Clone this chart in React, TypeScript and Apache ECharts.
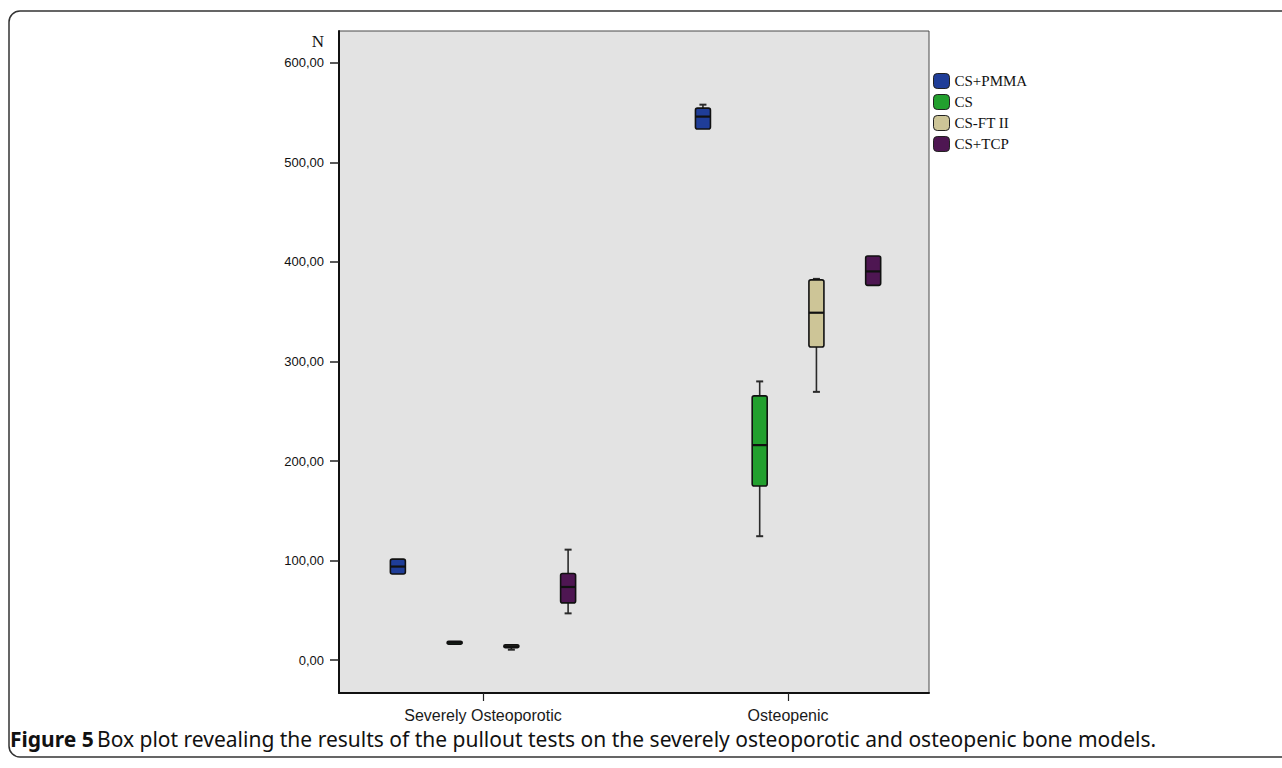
import React, { useEffect, useRef } from "react";
import * as echarts from "echarts";

// ---- data ----
const categories = ["Severely Osteoporotic", "Osteopenic"];
const seriesNames = ["CS+PMMA", "CS", "CS-FT II", "CS+TCP"];
// each row: [min, q1, median, q3, max] per category
const pmma = [
  [86, 86.5, 94, 101.5, 102],
  [533, 533.5, 546, 554.5, 558],
];
const cs = [
  [15.5, 16, 17.5, 19, 19.5],
  [124.5, 175, 216, 265.5, 280],
];
const ftii = [
  [10.5, 12.5, 14, 15.5, 16],
  [269.5, 314.5, 349, 382, 383],
];
const tcp = [
  [47, 57.5, 73.5, 87, 111],
  [376, 376.5, 390.5, 406, 406.5],
];
const yTicks = [0, 100, 200, 300, 400, 500, 600];
const colors = ["#1f3d98", "#22a02e", "#cdc597", "#4e1652"];
const caption =
  "Box plot revealing the results of the pullout tests on the severely osteoporotic and osteopenic bone models.";

const allSeries = [pmma, cs, ftii, tcp];

export default function App() {
  const ref = useRef<HTMLDivElement>(null);
  useEffect(() => {
    if (!ref.current) return;
    const chart = echarts.init(ref.current, undefined, { renderer: "svg" });

    const makeRender = (sIdx: number) => (params: any, api: any) => {
      const cat = api.value(0);
      const mn = api.value(1);
      const q1 = api.value(2);
      const md = api.value(3);
      const q3 = api.value(4);
      const mx = api.value(5);
      const unit = api.size([1, 0])[0];
      const step = unit * 0.186;
      const off = (sIdx - 1.5) * step;
      const cx = api.coord([cat, md])[0] + off;
      const yMn = api.coord([cat, mn])[1];
      const yQ1 = api.coord([cat, q1])[1];
      const yMd = api.coord([cat, md])[1];
      const yQ3 = api.coord([cat, q3])[1];
      const yMx = api.coord([cat, mx])[1];
      const bw = 15;
      const cap = 7;
      const lineStyle = { stroke: "#2a2a2a", lineWidth: 1.6 };
      const children: any[] = [];
      if (yMx < yQ3 - 0.5) {
        children.push({ type: "line", shape: { x1: cx, y1: yMx, x2: cx, y2: yQ3 }, style: lineStyle });
        children.push({ type: "line", shape: { x1: cx - cap / 2, y1: yMx, x2: cx + cap / 2, y2: yMx }, style: { stroke: "#2a2a2a", lineWidth: 2 } });
      }
      if (yMn > yQ1 + 0.5) {
        children.push({ type: "line", shape: { x1: cx, y1: yQ1, x2: cx, y2: yMn }, style: lineStyle });
        children.push({ type: "line", shape: { x1: cx - cap / 2, y1: yMn, x2: cx + cap / 2, y2: yMn }, style: { stroke: "#2a2a2a", lineWidth: 2 } });
      }
      children.push({
        type: "rect",
        shape: { x: cx - bw / 2, y: yQ3, width: bw, height: Math.max(yQ1 - yQ3, 1), r: 2 },
        style: { fill: colors[sIdx], stroke: "#111", lineWidth: 1.6 },
      });
      children.push({
        type: "line",
        shape: { x1: cx - bw / 2, y1: yMd, x2: cx + bw / 2, y2: yMd },
        style: { stroke: "#111", lineWidth: 2.2 },
      });
      return { type: "group", children };
    };

    const option: any = {
      animation: false,
      backgroundColor: "#ffffff",
      grid: {
        left: 339,
        top: 31,
        right: 353,
        bottom: 75,
        show: true,
        backgroundColor: "#e3e3e3",
        borderColor: "#4a4a4a",
        borderWidth: 1,
      },
      legend: {
        orient: "vertical",
        left: 933,
        top: 73,
        padding: 0,
        itemWidth: 16,
        itemHeight: 15,
        itemGap: 5,
        icon: "roundRect",
        itemStyle: { borderColor: "#222", borderWidth: 1 },
        textStyle: { fontFamily: "Liberation Serif", fontSize: 15, color: "#111" },
        data: seriesNames,
      },
      xAxis: {
        type: "value",
        min: -0.472,
        max: 1.462,
        splitLine: { show: false },
        axisLine: { show: true, onZero: false, lineStyle: { color: "#111", width: 2 } },
        axisTick: { show: true, customValues: [0, 1], length: 8, lineStyle: { color: "#222", width: 1.2 } },
        axisLabel: {
          customValues: [0, 1],
          formatter: (v: number) => categories[Math.round(v)] ?? "",
          fontFamily: "Liberation Sans",
          fontSize: 16,
          color: "#1a1a1a",
          margin: 14,
        },
      },
      yAxis: {
        type: "value",
        min: -33,
        max: 632,
        splitLine: { show: false },
        axisLine: { show: true, onZero: false, lineStyle: { color: "#111", width: 2 } },
        axisTick: { show: true, customValues: yTicks, length: 9, lineStyle: { color: "#222", width: 1.5 } },
        axisLabel: {
          customValues: yTicks,
          formatter: (v: number) => v.toFixed(2).replace(".", ","),
          fontFamily: "Liberation Sans",
          fontSize: 13,
          color: "#111",
          margin: 15,
        },
      },
      series: allSeries.map((arr, sIdx) => ({
        name: seriesNames[sIdx],
        type: "custom",
        itemStyle: { color: colors[sIdx] },
        encode: { x: 0, y: [1, 2, 3, 4, 5] },
        data: arr.map((row, ci) => [ci, ...row]),
        renderItem: makeRender(sIdx),
        z: 3,
      })),
      graphic: [
        {
          type: "rect",
          shape: { x: 9, y: 11, width: 1320, height: 746, r: 11 },
          style: { fill: "none", stroke: "#333", lineWidth: 1.5 },
          silent: true,
        },
        {
          type: "text",
          x: 324,
          y: 41,
          style: {
            text: "N",
            fontFamily: "Liberation Serif",
            fontSize: 17,
            fill: "#111",
            align: "right",
            verticalAlign: "middle",
          },
        },
        {
          type: "text",
          x: 10,
          y: 739,
          style: {
            text: "{b|Figure 5} {n|" + caption + "}",
            verticalAlign: "middle",
            rich: {
              b: { fontFamily: "Noto Sans", fontSize: 21, fontWeight: "bold", fill: "#111" },
              n: { fontFamily: "Noto Sans", fontSize: 21, fill: "#111" },
            },
          },
        },
      ],
    };
    chart.setOption(option);
    return () => chart.dispose();
  }, []);

  return (
    <div
      ref={ref}
      style={{ position: "fixed", left: 0, top: 0, width: 1282, height: 768, background: "#fff" }}
    />
  );
}
